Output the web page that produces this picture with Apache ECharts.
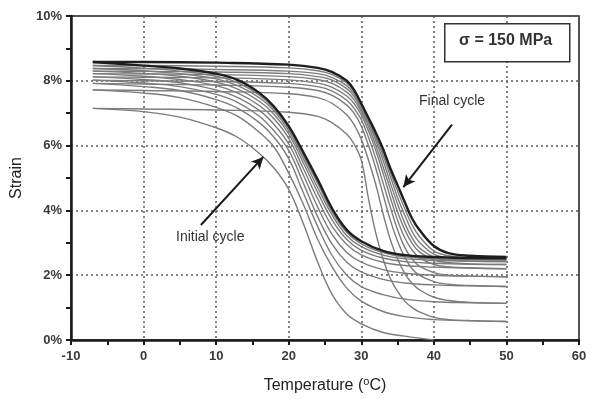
<!DOCTYPE html>
<html><head><meta charset="utf-8">
<script src="https://cdn.jsdelivr.net/npm/echarts@6/dist/echarts.min.js"></script>
<style>html,body{margin:0;padding:0;background:#fff}#c{width:590px;height:399px}</style>
</head><body><div id="c"></div>
<script>
// Axis ticks
const xTicks = [-10, 0, 10, 20, 30, 40, 50, 60];
const yTicks = [0, 2, 4, 6, 8, 10];

// Cooling branches (strain % at coolTemps, °C)
const coolTemps = [-7, 0, 5, 10, 13, 16, 18, 20, 22, 24, 26, 28, 30, 33, 36, 40, 45, 50];
const cool1  = [7.15, 7.05, 6.88, 6.55, 6.25, 5.75, 5.30, 4.65, 3.60, 2.40, 1.40, 0.80, 0.50, 0.23, 0.12, 0.00, null, null];
const cool2  = [7.72, 7.62, 7.48, 7.18, 6.90, 6.40, 5.95, 5.15, 4.20, 3.10, 2.25, 1.60, 1.20, 0.88, 0.72, 0.63, 0.59, 0.57];
const cool3  = [7.92, 7.82, 7.70, 7.42, 7.15, 6.70, 6.25, 5.60, 4.55, 3.50, 2.60, 2.00, 1.65, 1.40, 1.26, 1.18, 1.15, 1.13];
const cool4  = [8.02, 7.93, 7.82, 7.58, 7.33, 6.90, 6.45, 5.85, 4.85, 3.80, 2.95, 2.40, 2.10, 1.87, 1.76, 1.70, 1.67, 1.65];
const cool5  = [8.12, 8.04, 7.94, 7.72, 7.48, 7.08, 6.65, 6.05, 5.10, 4.10, 3.25, 2.70, 2.40, 2.17, 2.06, 2.00, 1.97, 1.95];
const cool6  = [8.22, 8.14, 8.04, 7.85, 7.62, 7.23, 6.82, 6.22, 5.30, 4.35, 3.50, 2.95, 2.63, 2.40, 2.30, 2.25, 2.22, 2.20];
const cool7  = [8.30, 8.23, 8.14, 7.96, 7.74, 7.36, 6.96, 6.36, 5.47, 4.55, 3.70, 3.10, 2.77, 2.53, 2.42, 2.37, 2.34, 2.33];
const cool8  = [8.38, 8.31, 8.22, 8.06, 7.85, 7.47, 7.07, 6.46, 5.60, 4.70, 3.85, 3.22, 2.88, 2.62, 2.51, 2.46, 2.43, 2.42];
const cool9  = [8.47, 8.39, 8.30, 8.14, 7.94, 7.55, 7.14, 6.54, 5.70, 4.83, 3.95, 3.32, 2.97, 2.70, 2.57, 2.51, 2.48, 2.47];
const cool10 = [8.58, 8.47, 8.38, 8.22, 8.02, 7.62, 7.20, 6.60, 5.80, 4.95, 4.05, 3.40, 3.05, 2.75, 2.62, 2.56, 2.53, 2.52];

// Heating branches (strain % at heatTemps, °C)
const heatTemps = [-7, 0, 10, 20, 24, 26, 28, 29, 30, 31, 32, 33, 34, 35, 36, 37, 38, 40, 42, 45, 50];
const heat1  = [7.15, 7.13, 7.10, 7.03, 6.90, 6.70, 6.35, 6.05, 5.55, 4.35, 3.30, 2.50, 1.90, 1.50, 1.20, 1.00, 0.87, 0.70, 0.63, 0.60, 0.57];
const heat2  = [7.72, 7.70, 7.67, 7.60, 7.48, 7.30, 6.95, 6.65, 6.20, 5.55, 4.80, 3.90, 3.10, 2.50, 2.05, 1.75, 1.55, 1.32, 1.22, 1.16, 1.13];
const heat3  = [7.92, 7.90, 7.87, 7.80, 7.70, 7.55, 7.25, 7.00, 6.60, 6.00, 5.30, 4.50, 3.70, 3.05, 2.55, 2.20, 2.00, 1.80, 1.72, 1.68, 1.65];
const heat4  = [8.02, 8.00, 7.98, 7.92, 7.82, 7.68, 7.40, 7.15, 6.80, 6.25, 5.60, 4.85, 4.10, 3.40, 2.85, 2.50, 2.28, 2.08, 2.00, 1.97, 1.95];
const heat5  = [8.12, 8.11, 8.09, 8.03, 7.93, 7.80, 7.53, 7.30, 6.95, 6.45, 5.85, 5.15, 4.40, 3.70, 3.15, 2.78, 2.55, 2.33, 2.26, 2.22, 2.20];
const heat6  = [8.22, 8.21, 8.19, 8.13, 8.04, 7.92, 7.65, 7.42, 7.05, 6.58, 6.00, 5.35, 4.65, 3.95, 3.40, 2.98, 2.72, 2.47, 2.39, 2.35, 2.33];
const heat7  = [8.30, 8.29, 8.27, 8.22, 8.13, 8.02, 7.76, 7.52, 7.12, 6.68, 6.15, 5.55, 4.85, 4.20, 3.60, 3.15, 2.85, 2.56, 2.47, 2.44, 2.42];
const heat8  = [8.38, 8.37, 8.35, 8.30, 8.22, 8.10, 7.85, 7.60, 7.20, 6.75, 6.25, 5.70, 5.05, 4.40, 3.85, 3.35, 3.02, 2.65, 2.53, 2.49, 2.47];
const heat9  = [8.47, 8.47, 8.45, 8.40, 8.31, 8.19, 7.93, 7.67, 7.26, 6.80, 6.33, 5.80, 5.18, 4.60, 4.05, 3.55, 3.20, 2.75, 2.60, 2.54, 2.52];
const heat10 = [8.58, 8.58, 8.56, 8.50, 8.40, 8.27, 8.00, 7.72, 7.30, 6.85, 6.40, 5.90, 5.30, 4.78, 4.25, 3.75, 3.40, 2.90, 2.68, 2.60, 2.56];

const coolList = [cool1, cool2, cool3, cool4, cool5, cool6, cool7, cool8, cool9, cool10];
const heatList = [heat1, heat2, heat3, heat4, heat5, heat6, heat7, heat8, heat9, heat10];

function pairs(temps, vals) {
  const out = [];
  temps.forEach((t, i) => { if (vals[i] !== null) out.push([t, vals[i]]); });
  return out;
}

const series = [];
function addCurve(temps, vals, isFinal) {
  series.push({
    type: 'line',
    data: pairs(temps, vals),
    smooth: 0.4,
    showSymbol: false,
    silent: true,
    z: isFinal ? 5 : 3,
    lineStyle: { color: isFinal ? '#1e1e1e' : '#7c7c7c', width: isFinal ? 2.4 : 1.4 }
  });
}
coolList.forEach((v, i) => addCurve(coolTemps, v, i === coolList.length - 1));
heatList.forEach((v, i) => addCurve(heatTemps, v, i === heatList.length - 1));

// Arrows (annotation, in data coordinates)
series.push({
  type: 'line', data: [], silent: true,
  markLine: {
    silent: true, symbolSize: [9, 12], animation: false,
    lineStyle: { color: '#1a1a1a', width: 2, type: 'solid' },
    label: { show: false },
    data: [
      [{ coord: [42.5, 6.65], symbol: 'none' }, { coord: [35.8, 4.72], symbol: 'arrow' }],
      [{ coord: [7.9, 3.55], symbol: 'none' }, { coord: [16.5, 5.65], symbol: 'arrow' }]
    ]
  }
});

const lblFont = { color: '#3a3a3a', fontSize: 13, fontWeight: 'bold', fontFamily: 'Liberation Sans, Arial, sans-serif' };

const chart = echarts.init(document.getElementById('c'), null, { renderer: 'canvas' });
chart.setOption({
  animation: false,
  backgroundColor: '#ffffff',
  grid: { left: 71, right: 11, top: 16, bottom: 59, show: true, borderColor: '#1a1a1a', borderWidth: 1.5, backgroundColor: 'transparent' },
  xAxis: {
    type: 'value', min: xTicks[0], max: xTicks[xTicks.length - 1], interval: 10,
    name: 'Temperature ({sup|o}C)', nameLocation: 'middle', nameGap: 36,
    nameTextStyle: {
      color: '#222', fontSize: 16, fontFamily: 'Liberation Sans, Arial, sans-serif',
      rich: { sup: { fontSize: 11, verticalAlign: 'top', padding: [0, 0, 8, 0], color: '#222', fontFamily: 'Liberation Sans, Arial, sans-serif' } }
    },
    axisLine: { show: true, onZero: false, lineStyle: { color: '#1a1a1a', width: 2.5 } },
    axisTick: { show: true, inside: false, length: 5, lineStyle: { color: '#1a1a1a', width: 2 } },
    minorTick: { show: true, splitNumber: 2, length: 5, lineStyle: { color: '#1a1a1a', width: 2 } },
    axisLabel: Object.assign({ margin: 10 }, lblFont),
    splitLine: { show: true, lineStyle: { color: '#5a5a5a', width: 1.5, type: [2, 3] } }
  },
  yAxis: {
    type: 'value', min: yTicks[0], max: yTicks[yTicks.length - 1], interval: 2,
    name: 'Strain', nameLocation: 'middle', nameGap: 46, nameRotate: 90,
    nameTextStyle: { color: '#222', fontSize: 16, fontFamily: 'Liberation Sans, Arial, sans-serif' },
    axisLine: { show: true, onZero: false, lineStyle: { color: '#1a1a1a', width: 2.5 } },
    axisTick: { show: true, inside: false, length: 5, lineStyle: { color: '#1a1a1a', width: 2 } },
    minorTick: { show: true, splitNumber: 2, length: 5, lineStyle: { color: '#1a1a1a', width: 2 } },
    axisLabel: Object.assign({ margin: 9, formatter: '{value}%' }, lblFont),
    splitLine: { show: true, lineStyle: { color: '#5a5a5a', width: 1.5, type: [2, 3] } }
  },
  graphic: [
    { type: 'rect', left: 444, top: 23, shape: { width: 125, height: 38 }, style: { fill: '#fff', stroke: '#333', lineWidth: 1.5 }, z: 100 },
    { type: 'text', left: 459, top: 33, style: { text: 'σ = 150 MPa', fill: '#333', font: 'bold 16px "Liberation Sans", Arial, sans-serif' }, z: 101 },
    { type: 'text', left: 419, top: 94, style: { text: 'Final cycle', fill: '#333', font: '14px "Liberation Sans", Arial, sans-serif' }, z: 101 },
    { type: 'text', left: 176, top: 230, style: { text: 'Initial cycle', fill: '#333', font: '14px "Liberation Sans", Arial, sans-serif' }, z: 101 }
  ],
  series: series
});
</script>
</body></html>
